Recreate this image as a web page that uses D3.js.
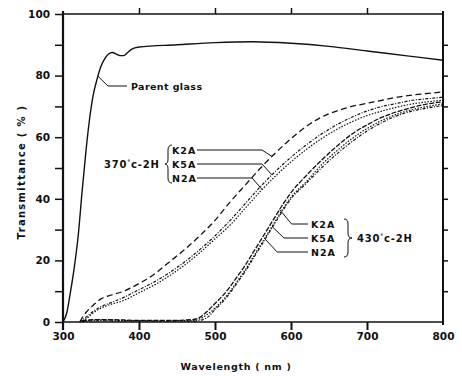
<!DOCTYPE html>
<html>
<head>
<meta charset="utf-8">
<script src="https://cdn.jsdelivr.net/npm/d3@7"></script>
<style>
  body { margin: 0; background: #fff; }
  svg text { font-family: "DejaVu Sans", sans-serif; font-weight: bold; fill: #111; }
</style>
</head>
<body>
<div id="chart"></div>
<script>
// wavelengths (nm) and transmittance (%)
var parentWl = [300, 305, 310, 315, 320, 325, 330, 335, 340, 345, 350, 355, 360, 365, 370, 375, 380, 385, 390, 400, 450, 500, 550, 600, 650, 700, 750, 800];
var parentT  = [0, 3, 10, 18, 28, 42, 55, 66, 74, 79, 83, 85.5, 87, 87.5, 87, 86.5, 86.5, 87.5, 88.5, 89.3, 90, 90.7, 91, 90.5, 89.5, 88, 86.5, 85];

var wl370 = [322, 330, 340, 350, 360, 380, 400, 420, 440, 460, 480, 500, 520, 540, 560, 580, 600, 620, 640, 660, 680, 700, 720, 740, 760, 780, 800];
var k2a370 = [0, 3, 5.5, 7.5, 8.5, 10, 12.5, 15.5, 19.5, 23.5, 28, 33, 39, 44.5, 50, 55, 59.5, 63.5, 66.5, 68.5, 70, 71, 72, 73, 73.7, 74.2, 74.7];
var k5a370 = [0, 1.5, 3.5, 5, 6, 8, 10.5, 13, 16, 19.5, 23.5, 28, 33, 38.5, 44, 49, 53.5, 57.5, 61, 64, 66.5, 68.5, 70, 71, 72, 72.5, 73];
var n2a370 = [0, 1, 3, 4.5, 5.5, 7, 9.5, 12, 15, 18.5, 22.5, 27, 31.5, 37, 42.5, 47.5, 52, 56, 59.5, 62.5, 65, 67, 68.5, 69.8, 70.8, 71.5, 72];

var wl430 = [325, 340, 360, 400, 440, 470, 480, 490, 500, 510, 520, 530, 540, 550, 560, 570, 580, 590, 600, 620, 640, 660, 680, 700, 720, 740, 760, 780, 800];
var k2a430 = [0.3, 0.8, 0.8, 0.5, 0.5, 0.8, 1.5, 3.5, 6, 8.5, 11.5, 15, 18.5, 22.5, 26.5, 30.5, 34.5, 38.5, 42, 47.5, 52.5, 57, 61, 64, 66.5, 68.3, 69.7, 70.8, 71.5];
var k5a430 = [0.2, 0.6, 0.6, 0.4, 0.4, 0.5, 1, 2.5, 4.5, 7, 10, 13.5, 17, 21, 25, 29, 33, 37, 40.5, 45.5, 51, 55.5, 59.5, 62.8, 65.5, 67.5, 69, 70, 70.8];
var n2a430 = [0.1, 0.4, 0.4, 0.3, 0.3, 0.3, 0.5, 1.5, 4, 6.5, 9.5, 13, 16.5, 20.5, 24.5, 28.5, 32.5, 36.5, 40, 45, 50, 54.5, 58.5, 62, 64.8, 67, 68.5, 69.5, 70.3];

var xTicks = [300, 400, 500, 600, 700, 800];
var yTicks = [0, 20, 40, 60, 80, 100];

var width = 462, height = 376;
var x = d3.scaleLinear().domain([300, 800]).range([63, 443]);
var y = d3.scaleLinear().domain([0, 100]).range([322, 14]);

var svg = d3.select("#chart").append("svg")
    .attr("width", width).attr("height", height);

var ink = "#111";

function series(wl, vals) { return wl.map(function (w, i) { return [w, vals[i]]; }); }
var line = d3.line().x(function (d) { return x(d[0]); }).y(function (d) { return y(d[1]); }).curve(d3.curveMonotoneX);

var curves = [
  { d: series(parentWl, parentT), dash: null, w: 1.4 },
  { d: series(wl370, k2a370), dash: "6,3.5", w: 1.3 },
  { d: series(wl370, k5a370), dash: "3,1.5,1,1.5", w: 1.2 },
  { d: series(wl370, n2a370), dash: "1.5,1.5", w: 1.2 },
  { d: series(wl430, k2a430), dash: "5,1.5", w: 1.3 },
  { d: series(wl430, k5a430), dash: "1.5,1.5", w: 1.2 },
  { d: series(wl430, n2a430), dash: "3,1.5,1,1.5", w: 1.2 }
];

svg.append("g").selectAll("path").data(curves).join("path")
  .attr("d", function (c) { return line(c.d); })
  .attr("fill", "none").attr("stroke", ink)
  .attr("stroke-width", function (c) { return c.w; })
  .attr("stroke-dasharray", function (c) { return c.dash; });

// frame
svg.append("line").attr("x1", x(300)).attr("x2", x(800)).attr("y1", y(100)).attr("y2", y(100)).attr("stroke", ink).attr("stroke-width", 1.5);
svg.append("line").attr("x1", x(300)).attr("x2", x(800)).attr("y1", y(0)).attr("y2", y(0)).attr("stroke", ink).attr("stroke-width", 1.3);
svg.append("line").attr("x1", x(300)).attr("x2", x(300)).attr("y1", y(100) - 3).attr("y2", y(0) + 8).attr("stroke", ink).attr("stroke-width", 2.2);
svg.append("line").attr("x1", x(800)).attr("x2", x(800)).attr("y1", y(100) - 3).attr("y2", y(0) + 3).attr("stroke", ink).attr("stroke-width", 2);

// axes
var leftAx = svg.append("g").attr("transform", "translate(" + x(300) + ",0)")
  .call(d3.axisLeft(y).tickValues(d3.range(0, 101, 10)).tickSize(8).tickFormat(function (d) { return d % 20 === 0 ? d : ""; }));
var bottomAx = svg.append("g").attr("transform", "translate(0," + y(0) + ")")
  .call(d3.axisBottom(x).tickValues(xTicks).tickSize(8).tickPadding(3));
var rightAx = svg.append("g").attr("transform", "translate(" + x(800) + ",0)")
  .call(d3.axisRight(y).tickValues(d3.range(10, 100, 10)).tickSize(5).tickFormat(""));
var topAx = svg.append("g").attr("transform", "translate(0," + y(100) + ")")
  .call(d3.axisTop(x).tickValues([400, 500, 600, 700]).tickSize(6).tickFormat(""));

[leftAx, bottomAx, rightAx, topAx].forEach(function (g) {
  g.select(".domain").remove();
  g.selectAll(".tick line").attr("stroke", ink).attr("stroke-width", 1.5);
  g.selectAll(".tick text").attr("font-size", 10.5).attr("font-family", "DejaVu Sans").attr("font-weight", "bold").attr("fill", ink);
});
bottomAx.selectAll(".tick line").attr("stroke-width", 2);
bottomAx.selectAll(".tick").filter(function (d) { return d === 300 || d === 800; }).select("line").remove();
leftAx.selectAll(".tick text").attr("dx", -2);

// axis titles
svg.append("text").attr("x", 236).attr("y", 370).attr("text-anchor", "middle")
  .attr("font-size", 9.5).attr("letter-spacing", 0.7).text("Wavelength  ( nm )");
svg.append("text").attr("transform", "translate(25,172) rotate(-90)").attr("text-anchor", "middle")
  .attr("font-size", 10).attr("letter-spacing", 1.3).text("Transmittance  ( % )");

// helpers for annotations
function at(wl, vals, w) { return [x(w), y(d3.scaleLinear().domain(wl).range(vals)(w))]; }
function leader(pts) {
  svg.append("path").attr("d", d3.line()(pts)).attr("fill", "none").attr("stroke", ink).attr("stroke-width", 1);
}

// Parent glass
var pg = at(parentWl, parentT, 346);
leader([pg, [pg[0] + 10, 86], [127, 86]]);
svg.append("text").attr("x", 131).attr("y", 90).attr("font-size", 9.5).attr("letter-spacing", 0.4).text("Parent glass");

// 370 C group
var lab370 = [["K2A", 150, wl370, k2a370, 575], ["K5A", 164, wl370, k5a370, 575], ["N2A", 178, wl370, n2a370, 562]];
lab370.forEach(function (l) {
  svg.append("text").attr("x", 172).attr("y", l[1] + 4).attr("font-size", 9.5).attr("letter-spacing", 1).text(l[0]);
  var p = at(l[2], l[3], l[4]);
  leader([[197, l[1]], [p[0] - 10, l[1]], p]);
});
svg.append("path").attr("d", "M172,145 Q168,145 168,150 L168,159 Q168,164 165,164 Q168,164 168,169 L168,178 Q168,183 172,183")
  .attr("fill", "none").attr("stroke", ink).attr("stroke-width", 1);
var t370 = svg.append("text").attr("x", 104).attr("y", 168).attr("font-size", 10).attr("letter-spacing", 0.8);
t370.append("tspan").text("370");
t370.append("tspan").attr("font-size", 6).attr("dy", -4).text("°");
t370.append("tspan").attr("dy", 4).text("c-2H");

// 430 C group
var lab430 = [["K2A", 224, wl430, k2a430, 585], ["K5A", 238, wl430, k5a430, 575], ["N2A", 252, wl430, n2a430, 566]];
lab430.forEach(function (l) {
  svg.append("text").attr("x", 311).attr("y", l[1] + 4).attr("font-size", 9.5).attr("letter-spacing", 1).text(l[0]);
  var p = at(l[2], l[3], l[4]);
  leader([[308, l[1]], [p[0] + 12, l[1]], p]);
});
svg.append("path").attr("d", "M344,219 Q348,219 348,224 L348,233 Q348,238 352,238 Q348,238 348,243 L348,252 Q348,257 344,257")
  .attr("fill", "none").attr("stroke", ink).attr("stroke-width", 1);
var t430 = svg.append("text").attr("x", 357).attr("y", 242).attr("font-size", 10).attr("letter-spacing", 0.8);
t430.append("tspan").text("430");
t430.append("tspan").attr("font-size", 6).attr("dy", -4).text("°");
t430.append("tspan").attr("dy", 4).text("c-2H");
</script>
</body>
</html>
